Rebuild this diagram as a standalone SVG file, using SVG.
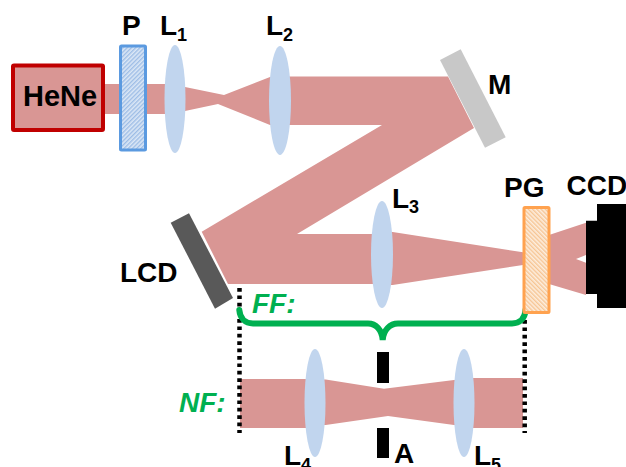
<svg xmlns="http://www.w3.org/2000/svg" width="626" height="467" viewBox="0 0 626 467">
<style>
.beam{fill:#d99694}
.lens{fill:#c1d5ee}
.t{font-family:"Liberation Sans",Arial,sans-serif;font-size:28px;font-weight:700;fill:#000}
.s{font-size:18px}
.g{font-family:"Liberation Sans",Arial,sans-serif;font-size:28px;font-weight:700;font-style:italic;fill:#00b050}
.dot{fill:none;stroke:#000;stroke-width:4.500;stroke-dasharray:3.700 3.700}
</style>
<defs>
<pattern id="hb" width="3" height="3" patternUnits="userSpaceOnUse" patternTransform="rotate(45)"><rect width="3" height="3" fill="#dce8f6"/><rect width="1.400" height="3" fill="#9dbde6"/></pattern>
<pattern id="ho" width="3" height="3" patternUnits="userSpaceOnUse" patternTransform="rotate(-45)"><rect width="3" height="3" fill="#fdeede"/><rect width="1.400" height="3" fill="#f6c594"/></pattern>
</defs>
<g id="beams">
<path class="beam" d="M104 84H175V114H104Z"/>
<path class="beam" d="M175 87H185L224 95 270 77H280V125H270L218 104 185 111H175Z"/>
<path class="beam" d="M280 76.500H448L474 128 297 234H382V284H228L201.700 231.700 382 125H280Z"/>
<path class="beam" d="M382 232H392.700L523 252.300V265L392.700 285H382Z"/>
<path class="beam" d="M549 235L586 222.700V255L576 259 586 262.700V295L549 284Z"/>
<path class="beam" d="M240 379H316V428H240Z"/>
<path class="beam" d="M316 379.500H325.700L384 388.700 454 380H464V425H454L388 416 325.700 425H316Z"/>
<path class="beam" d="M464 378H523V428H464Z"/>
</g>
<g id="connectors">
<path class="dot" d="M239.500 288V310M239.500 319V433M524.700 320V433"/>
<path id="brace" d="M239.300 310C240 318 245 323.500 253 323.500H368C376 323.500 382 330 382.700 340C383.400 330 390 323.500 398 323.500H512C520 323.500 525 318 525.500 310" fill="none" stroke="#00b050" stroke-width="6" stroke-linecap="round"/>
</g>
<g id="hene"><rect x="13" y="65.500" width="90" height="64.500" fill="#d99694" stroke="#c00000" stroke-width="4" rx="1"/><text class="t" x="23" y="106" style="font-size:29px">HeNe</text></g>
<g id="p"><rect x="120.500" y="46" width="25" height="104" rx="1" fill="url(#hb)" stroke="#5b9ae0" stroke-width="3"/><text class="t" x="122" y="35">P</text></g>
<g id="l1"><ellipse class="lens" cx="175" cy="99" rx="10.500" ry="54"/><text class="t" x="160" y="35">L<tspan class="s" dy="6">1</tspan></text></g>
<g id="l2"><ellipse class="lens" cx="280" cy="100.500" rx="11" ry="54.500"/><text class="t" x="266" y="35">L<tspan class="s" dy="6">2</tspan></text></g>
<g id="m"><path d="M460.700 49.300L440 60 485 147.700 505.700 137.300Z" fill="#c8c8c8"/><text class="t" x="488" y="94">M</text></g>
<g id="lcd"><path d="M189 213.300L170.700 222.700 215 308.700 233 298Z" fill="#595959"/><text class="t" x="120" y="282">LCD</text></g>
<g id="l3"><ellipse class="lens" cx="382" cy="254.500" rx="11" ry="53.500"/><text class="t" x="392" y="208">L<tspan class="s" dy="5">3</tspan></text></g>
<g id="pg"><rect x="524" y="207.500" width="25" height="105" rx="1" fill="url(#ho)" stroke="#ffa24f" stroke-width="3"/><text class="t" x="504" y="197">PG</text></g>
<g id="ccd"><path d="M586 220.700H597V204H626V308H597V294H586Z" fill="#000"/><text class="t" x="566.500" y="195">CCD</text></g>
<g id="l4"><ellipse class="lens" cx="315" cy="403" rx="10.500" ry="54"/><text class="t" x="284" y="465">L<tspan class="s" dy="6">4</tspan></text></g>
<g id="a"><rect x="377" y="352" width="12" height="31" fill="#000"/><rect x="377" y="428" width="12" height="30" fill="#000"/><text class="t" x="394" y="463">A</text></g>
<g id="l5"><ellipse class="lens" cx="464" cy="403" rx="10.500" ry="54"/><text class="t" x="474" y="465">L<tspan class="s" dy="6">5</tspan></text></g>
<text class="g" x="252" y="313">FF:</text>
<text class="g" x="179" y="412">NF:</text>
</svg>
